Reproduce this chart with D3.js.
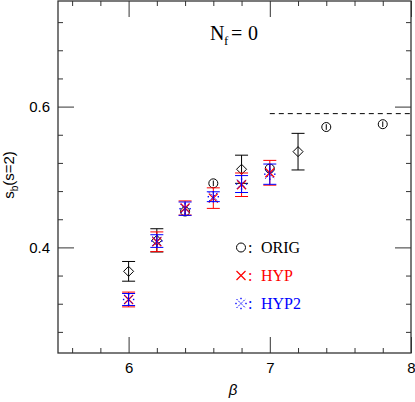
<!DOCTYPE html>
<style>
    body { margin: 0; background: #fff; }
    svg text { fill: #000; }
</style>
<svg width="415" height="402"></svg>
<script src="https://d3js.org/d3.v7.min.js"></script>
<script>
    // data
    var betaOrig = [6.0, 6.2, 6.4, 6.6, 6.8, 7.0, 7.2, 7.4, 7.8];
    var sbOrig   = [0.366, 0.410, 0.451, 0.491, 0.511, 0.512, 0.536, 0.571, 0.575];
    var errOrig  = [0.014, 0.0165, 0.004, 0.004, 0.020, 0.005, 0.026, 0.004, 0.004];
    var markOrig = ["diamond", "diamond", "circle", "circle", "diamond", "circle", "diamond", "circle", "circle"];

    var betaHyp = [6.0, 6.2, 6.4, 6.6, 6.8, 7.0];
    var sbHyp   = [0.326, 0.408, 0.456, 0.470, 0.489, 0.506];
    var errHyp  = [0.0105, 0.014, 0.010, 0.0146, 0.0167, 0.0176];

    var betaHyp2 = [6.0, 6.2, 6.4, 6.6, 6.8, 7.0];
    var sbHyp2   = [0.326, 0.409, 0.455, 0.472, 0.490, 0.504];
    var errHyp2  = [0.0085, 0.009, 0.0095, 0.007, 0.012, 0.0144];

    var plateauBeta = [7.0, 8.0];
    var plateauValue = 0.59;

    var xMajor = [6, 7, 8];
    var xMinor = [5.6, 5.8, 6.2, 6.4, 6.6, 6.8, 7.2, 7.4, 7.6, 7.8];
    var yMajor = [0.4, 0.6];
    var yMinor = [0.28, 0.32, 0.36, 0.44, 0.48, 0.52, 0.56, 0.64, 0.68, 0.72];

    var legendNames = ["ORIG", "HYP", "HYP2"];
    var legendColors = ["#000", "#ff0000", "#0000ff"];

    var svg = d3.select("svg"),
        m = {left: 58, right: 411, top: 1, bottom: 353};

    var x = d3.scaleLinear().domain([5.5, 8]).range([m.left, m.right]);
    var y = d3.scaleLinear().domain([0.25, 0.75]).range([m.bottom, m.top]);

    var frameColor = "#333";
    var tickFont = "'Liberation Sans', Arial, sans-serif";
    var serif = "'Liberation Serif', 'Times New Roman', serif";

    // axes on all four sides, ticks pointing inward
    function styleAxis(g) {
        g.select(".domain").remove();
        g.selectAll(".tick line").attr("stroke", frameColor);
        g.selectAll(".tick text").attr("font-family", tickFont).attr("font-size", 15).attr("fill", "#000");
    }

    svg.append("g").attr("transform", "translate(0," + m.bottom + ")")
        .call(d3.axisBottom(x).tickValues(xMinor).tickSizeInner(-5).tickFormat(""))
        .call(styleAxis);
    svg.append("g").attr("transform", "translate(0," + m.bottom + ")")
        .call(d3.axisBottom(x).tickValues(xMajor).tickSizeInner(-16).tickPadding(9).tickFormat(d3.format("d")))
        .call(styleAxis);
    svg.append("g").attr("transform", "translate(0," + m.top + ")")
        .call(d3.axisTop(x).tickValues(xMinor).tickSizeInner(-5).tickFormat(""))
        .call(styleAxis);
    svg.append("g").attr("transform", "translate(0," + m.top + ")")
        .call(d3.axisTop(x).tickValues(xMajor).tickSizeInner(-16).tickFormat(""))
        .call(styleAxis);

    svg.append("g").attr("transform", "translate(" + m.left + ",0)")
        .call(d3.axisLeft(y).tickValues(yMinor).tickSizeInner(-5).tickFormat(""))
        .call(styleAxis);
    svg.append("g").attr("transform", "translate(" + m.left + ",0)")
        .call(d3.axisLeft(y).tickValues(yMajor).tickSizeInner(-16).tickPadding(8).tickFormat(d3.format(".1f")))
        .call(styleAxis);
    svg.append("g").attr("transform", "translate(" + m.right + ",0)")
        .call(d3.axisRight(y).tickValues(yMinor).tickSizeInner(-5).tickFormat(""))
        .call(styleAxis);
    svg.append("g").attr("transform", "translate(" + m.right + ",0)")
        .call(d3.axisRight(y).tickValues(yMajor).tickSizeInner(-16).tickFormat(""))
        .call(styleAxis);

    // frame
    svg.append("rect")
        .attr("x", m.left).attr("y", m.top)
        .attr("width", m.right - m.left).attr("height", m.bottom - m.top)
        .attr("fill", "none").attr("stroke", frameColor).attr("stroke-width", 1.3);

    // dashed plateau line
    svg.append("line")
        .attr("x1", x(plateauBeta[0])).attr("x2", x(plateauBeta[1]))
        .attr("y1", y(plateauValue)).attr("y2", y(plateauValue))
        .attr("stroke", "#000").attr("stroke-dasharray", "5,4");

    var capW = 6.5;

    function errorBars(g, xs, ys, es, color, radius) {
        xs.forEach(function (b, i) {
            var cx = x(b), y1 = y(ys[i] + es[i]), y2 = y(ys[i] - es[i]);
            g.append("line").attr("x1", cx).attr("x2", cx).attr("y1", y1).attr("y2", y2)
                .attr("stroke", color);
            if ((y2 - y1) / 2 > radius) {
                [y1, y2].forEach(function (yy) {
                    g.append("line").attr("x1", cx - capW).attr("x2", cx + capW)
                        .attr("y1", yy).attr("y2", yy).attr("stroke", color);
                });
            }
        });
    }

    function drawMarker(g, kind, cx, cy, color) {
        if (kind === "circle") {
            g.append("circle").attr("cx", cx).attr("cy", cy).attr("r", 4.5)
                .attr("fill", "none").attr("stroke", color);
        } else if (kind === "diamond") {
            var s = 5;
            g.append("path")
                .attr("d", "M" + cx + "," + (cy - s) + "L" + (cx + s) + "," + cy + "L" + cx + "," + (cy + s) + "L" + (cx - s) + "," + cy + "Z")
                .attr("fill", "none").attr("stroke", color);
        } else if (kind === "cross") {
            var c = 4.5;
            g.append("path")
                .attr("d", "M" + (cx - c) + "," + (cy - c) + "L" + (cx + c) + "," + (cy + c) + "M" + (cx - c) + "," + (cy + c) + "L" + (cx + c) + "," + (cy - c))
                .attr("fill", "none").attr("stroke", color).attr("stroke-width", 1.2);
        } else if (kind === "refmark") {
            var k = 4.5;
            g.append("path")
                .attr("d", "M" + (cx - k) + "," + (cy - k) + "L" + (cx + k) + "," + (cy + k) + "M" + (cx - k) + "," + (cy + k) + "L" + (cx + k) + "," + (cy - k))
                .attr("fill", "none").attr("stroke", color).attr("stroke-dasharray", "1.5,1");
            [[0, -5], [0, 5], [-5, 0], [5, 0]].forEach(function (o) {
                g.append("rect").attr("x", cx + o[0] - 0.7).attr("y", cy + o[1] - 0.7)
                    .attr("width", 1.4).attr("height", 1.4).attr("fill", color);
            });
        }
    }

    // ORIG
    var gOrig = svg.append("g");
    errorBars(gOrig, betaOrig, sbOrig, errOrig, "#000", 5);
    betaOrig.forEach(function (b, i) {
        drawMarker(gOrig, markOrig[i], x(b), y(sbOrig[i]), "#000");
    });

    // HYP
    var gHyp = svg.append("g");
    errorBars(gHyp, betaHyp, sbHyp, errHyp, "#ff0000", 0);
    betaHyp.forEach(function (b, i) {
        drawMarker(gHyp, "cross", x(b), y(sbHyp[i]), "#ff0000");
    });

    // HYP2
    var gHyp2 = svg.append("g");
    errorBars(gHyp2, betaHyp2, sbHyp2, errHyp2, "#0000ff", 0);
    betaHyp2.forEach(function (b, i) {
        drawMarker(gHyp2, "refmark", x(b), y(sbHyp2[i]), "#0000ff");
    });

    // legend
    var legendMarks = ["circle", "cross", "refmark"];
    legendNames.forEach(function (name, i) {
        var base = 253 + i * 28;
        drawMarker(svg, legendMarks[i], 241, base - 5.5, legendColors[i]);
        svg.append("text").attr("x", 248).attr("y", base)
            .attr("font-family", serif).attr("font-size", 16)
            .style("fill", legendColors[i]).text(":");
        svg.append("text").attr("x", 261).attr("y", base)
            .attr("font-family", serif).attr("font-size", 16)
            .style("fill", legendColors[i]).text(name);
    });

    // title N_f = 0
    var title = svg.append("text").attr("y", 40)
        .attr("font-family", serif).attr("font-size", 20);
    title.append("tspan").attr("x", 210).text("N");
    title.append("tspan").attr("x", 224).attr("dy", 5).attr("font-size", 13).text("f");
    title.append("tspan").attr("x", 231).attr("dy", -5).text("=");
    title.append("tspan").attr("x", 248).text("0");

    // axis labels
    svg.append("text")
        .attr("x", 233).attr("y", 395)
        .attr("text-anchor", "middle")
        .attr("font-family", tickFont).attr("font-size", 15).attr("font-style", "italic")
        .text("β");

    var ylab = svg.append("text")
        .attr("transform", "translate(14,175) rotate(-90)")
        .attr("text-anchor", "middle")
        .attr("font-family", tickFont).attr("font-size", 15);
    ylab.append("tspan").text("s");
    ylab.append("tspan").attr("dy", 4).attr("font-size", 10).text("b");
    ylab.append("tspan").attr("dy", -4).text("(s=2)");
</script>
